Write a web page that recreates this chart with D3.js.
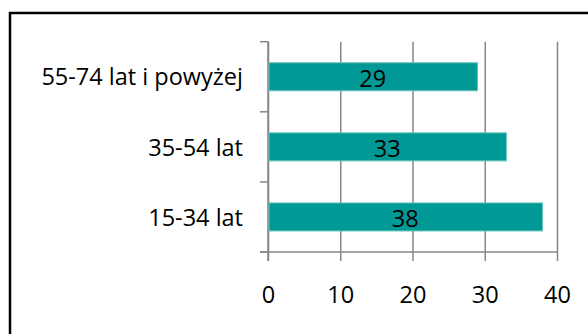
<!DOCTYPE html>
<html>
<head>
<meta charset="utf-8">
<script src="https://cdn.jsdelivr.net/npm/d3@7"></script>
<style>
  body { margin: 0; background: #fff; }
  svg text { font-family: "Open Sans", "Noto Sans", sans-serif; fill: #000; }
</style>
</head>
<body>
<div id="chart"></div>
<script>
const categories = ["55-74 lat i powyżej", "35-54 lat", "15-34 lat"];
const values = [29, 33, 38];
const xTicks = [0, 10, 20, 30, 40];

const width = 588, height = 334;
const plotLeft = 268, plotRight = 557, plotTop = 41.7, plotBottom = 252;
const fontSize = 23.5;

const svg = d3.select("#chart")
  .append("svg")
  .attr("width", width)
  .attr("height", height);

// outer frame (runs off the right and bottom edges)
svg.append("rect")
  .attr("x", 10)
  .attr("y", 13)
  .attr("width", 600)
  .attr("height", 340)
  .attr("fill", "none")
  .attr("stroke", "#000")
  .attr("stroke-width", 2.5);

const x = d3.scaleLinear().domain([0, 40]).range([plotLeft, plotRight]);
const y = d3.scaleBand()
  .domain(categories)
  .range([plotTop, plotBottom])
  .paddingInner(0.6)
  .paddingOuter(0.3);

// vertical gridlines
svg.append("g")
  .attr("transform", `translate(0, ${plotBottom})`)
  .call(d3.axisBottom(x).tickValues(xTicks).tickSize(-(plotBottom - plotTop)).tickFormat(""))
  .call(g => g.select(".domain").remove())
  .call(g => g.selectAll("line").attr("stroke", "#878787").attr("stroke-width", 1.5));

// bottom axis
svg.append("g")
  .attr("transform", `translate(0, ${plotBottom})`)
  .call(d3.axisBottom(x).tickValues(xTicks).tickSize(9).tickSizeOuter(0))
  .call(g => g.select(".domain").attr("stroke", "#878787").attr("stroke-width", 1.5)
    .attr("d", `M${plotLeft - 8},0H${plotRight}`))
  .call(g => g.selectAll("line").attr("stroke", "#878787").attr("stroke-width", 1.5))
  .call(g => g.selectAll("text").attr("font-size", fontSize).attr("y", 51).attr("dy", null)
    .attr("fill", "#000"));

// left axis: ticks at band boundaries
const boundaries = d3.range(categories.length + 1)
  .map(i => plotTop + i * (plotBottom - plotTop) / categories.length);
const yAxis = svg.append("g").attr("transform", `translate(${plotLeft}, 0)`);
yAxis.append("line")
  .attr("x1", 0).attr("x2", 0)
  .attr("y1", plotTop).attr("y2", plotBottom + 9)
  .attr("stroke", "#878787").attr("stroke-width", 1.5);
yAxis.selectAll(".tick")
  .data(boundaries)
  .join("line")
  .attr("x1", -8).attr("x2", 0)
  .attr("y1", d => d).attr("y2", d => d)
  .attr("stroke", "#878787").attr("stroke-width", 1.5);

// category labels
svg.append("g")
  .selectAll("text")
  .data(categories)
  .join("text")
  .attr("x", plotLeft - 25)
  .attr("y", d => y(d) + y.bandwidth() / 2 + 8.7)
  .attr("text-anchor", "end")
  .attr("font-size", fontSize)
  .text(d => d);

// bars
svg.append("g")
  .selectAll("rect")
  .data(values)
  .join("rect")
  .attr("x", x(0) + 1)
  .attr("y", (d, i) => y(categories[i]))
  .attr("width", d => x(d) - x(0) - 1)
  .attr("height", y.bandwidth())
  .attr("fill", "#009995")
  .attr("stroke", "#6cc4c0")
  .attr("stroke-width", 1);

// value labels
svg.append("g")
  .selectAll("text")
  .data(values)
  .join("text")
  .attr("x", d => (x(0) + x(d)) / 2)
  .attr("y", (d, i) => y(categories[i]) + y.bandwidth() / 2 + 10.4)
  .attr("text-anchor", "middle")
  .attr("font-size", fontSize)
  .text(d => d);
</script>
</body>
</html>
